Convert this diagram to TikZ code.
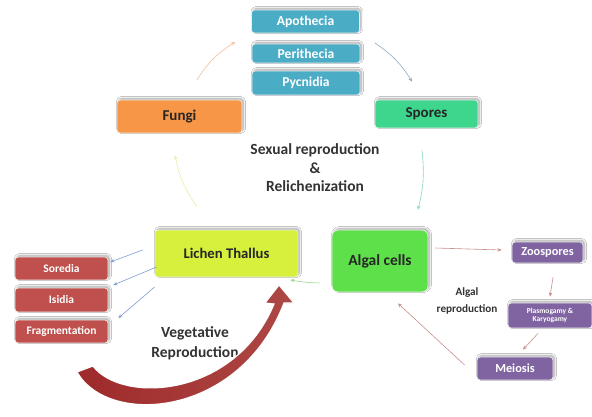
\documentclass[tikz,border=0pt]{standalone}
\usepackage{fontspec}
\setmainfont{Carlito}
\usetikzlibrary{arrows.meta,shadows,shadows.blur}
\definecolor{cblue}{HTML}{4BACC6}
\definecolor{corange}{HTML}{F79646}
\definecolor{cmint}{HTML}{3DD68C}
\definecolor{clime}{HTML}{D7F03C}
\definecolor{cgreen}{HTML}{5EE04A}
\definecolor{cred}{HTML}{C0504D}
\definecolor{cpurple}{HTML}{8064A2}
\definecolor{apeach}{HTML}{F6BE96}
\definecolor{agrey}{HTML}{8FAAC2}
\definecolor{ateal}{HTML}{8ED4C4}
\definecolor{apale}{HTML}{E4F0A8}
\definecolor{agreen}{HTML}{9ED88C}
\definecolor{ablue}{HTML}{7E9ED0}
\definecolor{apink}{HTML}{C98E8E}
\definecolor{darkred}{HTML}{9E2A2A}
\tikzset{
  box/.style={rectangle, rounded corners=3pt, draw=white!85!gray, line width=0.8pt,
    font=\bfseries, inner sep=1pt, align=center,
    blur shadow={shadow xshift=1.5pt, shadow yshift=1.5pt, shadow blur steps=5, shadow opacity=35}},
  bluebox/.style={box, fill=cblue, text=white, minimum width=108pt, font=\bfseries\fontsize{13.6}{14}\selectfont},
  redbox/.style={box, fill=cred, text=white, minimum width=93pt, minimum height=23pt, font=\bfseries\fontsize{11.5}{12}\selectfont},
  purplebox/.style={box, fill=cpurple, text=white, font=\bfseries\fontsize{12.3}{13}\selectfont},
  conn/.style={-{Stealth[length=4pt,width=3.5pt]}, line width=0.6pt},
  lbl/.style={font=\bfseries\fontsize{15.5}{18.5}\selectfont, text=black!80, align=center},
}
\begin{document}
\begin{tikzpicture}[x=1pt,y=-1pt]
\useasboundingbox[fill=white] (0,0) rectangle (592,416);

% top blue boxes
\node[bluebox, minimum height=23pt] (apo) at (305.5,21.5) {Apothecia};
\node[bluebox, minimum height=19pt] (peri) at (306,53.5) {Perithecia};
\node[bluebox, minimum height=24pt] (pyc) at (306,83) {Pycnidia};

\node[box, fill=corange, text=black!85, minimum width=125pt, minimum height=33pt,
      font=\bfseries\fontsize{15}{16}\selectfont] (fungi) at (179.5,116.5) {Fungi};
\node[box, fill=cmint, text=black!85, minimum width=103pt, minimum height=28pt,
      font=\bfseries\fontsize{15}{16}\selectfont] (spores) at (426.5,114) {Spores};

\node[box, fill=clime, text=black!85, minimum width=143pt, minimum height=47pt,
      font=\bfseries\fontsize{14.7}{15}\selectfont] (lt) at (226.5,253.5) {Lichen Thallus};
\node[box, rounded corners=6pt, fill=cgreen, text=black!85, minimum width=96pt, minimum height=62pt,
      font=\bfseries\fontsize{15.5}{16}\selectfont] (algal) at (380,261) {Algal cells};

\node[lbl] (sexual) at (315,168) {Sexual reproduction\\\&\\Relichenization};

% red boxes
\node[redbox] (sor) at (61.5,268.5) {Soredia};
\node[redbox, minimum height=24pt] (isi) at (61.5,300) {Isidia};
\node[redbox] (frag) at (61.5,331.5) {Fragmentation};

\node[lbl, font=\bfseries\fontsize{15.5}{20}\selectfont] (veg) at (195,343) {Vegetative\\Reproduction};

% purple boxes
\node[purplebox, minimum width=71pt, minimum height=21pt] (zoo) at (547.5,252.5) {Zoospores};
\node[purplebox, minimum width=84pt, minimum height=25pt, font=\bfseries\fontsize{7.5}{8.5}\selectfont] (plas) at (550,315.5) {Plasmogamy \&\\Karyogamy};
\node[purplebox, minimum width=76pt, minimum height=23pt] (mei) at (515,368.5) {Meiosis};

\node[lbl, font=\bfseries\fontsize{11.2}{17}\selectfont] (algrep) at (467,301) {Algal\\reproduction};

% big red vegetative arrow
\shade[left color=darkred, right color=cred!90!black, draw=white, line width=1.2pt]
  (77,372) .. controls (108,427) and (240,418) .. (284,303)
  -- (294,303) -- (279,285) -- (265,303) -- (274,304)
  .. controls (235,398) and (122,404) .. (93,366) -- cycle;

% connectors of the sexual cycle
\draw[conn, apeach] ([shift={(17.5,-20)}]fungi.north) to[bend left=12] ([shift={(-16,20.5)}]apo.west);
\draw[conn, agrey] ([shift={(15,21.5)}]apo.east) to[bend left=12] ([shift={(-14.5,-18)}]spores.north);
\draw[conn, ateal] ([shift={(-4.5,22)}]spores.south) to[bend left=10] ([shift={(38,-20)}]algal.north);
\draw[conn, agreen] ([shift={(-12,22)}]algal.west) to[bend left=4] ([shift={(-8,26.5)}]lt.east);
\draw[conn, apale] ([shift={(-29.5,-23)}]lt.north) to[bend left=12] ([shift={(-4.5,22)}]fungi.south);

% vegetative connectors
\draw[conn, ablue] ([shift={(-12,-3.5)}]lt.west) -- ([shift={(2,-6.5)}]sor.east);
\draw[conn, ablue] ([shift={(2,13.5)}]lt.west) -- ([shift={(5,-15)}]isi.east);
\draw[conn, ablue] ([shift={(0,33.5)}]lt.west) -- ([shift={(10,-13.5)}]frag.east);

% algal reproduction connectors
\draw[conn, apink] ([shift={(7,-13)}]algal.east) -- ([shift={(-10,-2.5)}]zoo.west);
\draw[conn, apink] ([shift={(5.5,14)}]zoo.south) -- ([shift={(0,-6)}]plas.north);
\draw[conn, apink] ([shift={(-12,5)}]plas.south) -- ([shift={(8,-7)}]mei.north);
\draw[conn, apink] ([shift={(-12,-3.5)}]mei.west) -- ([shift={(18,11)}]algal.south);
\end{tikzpicture}
\end{document}
